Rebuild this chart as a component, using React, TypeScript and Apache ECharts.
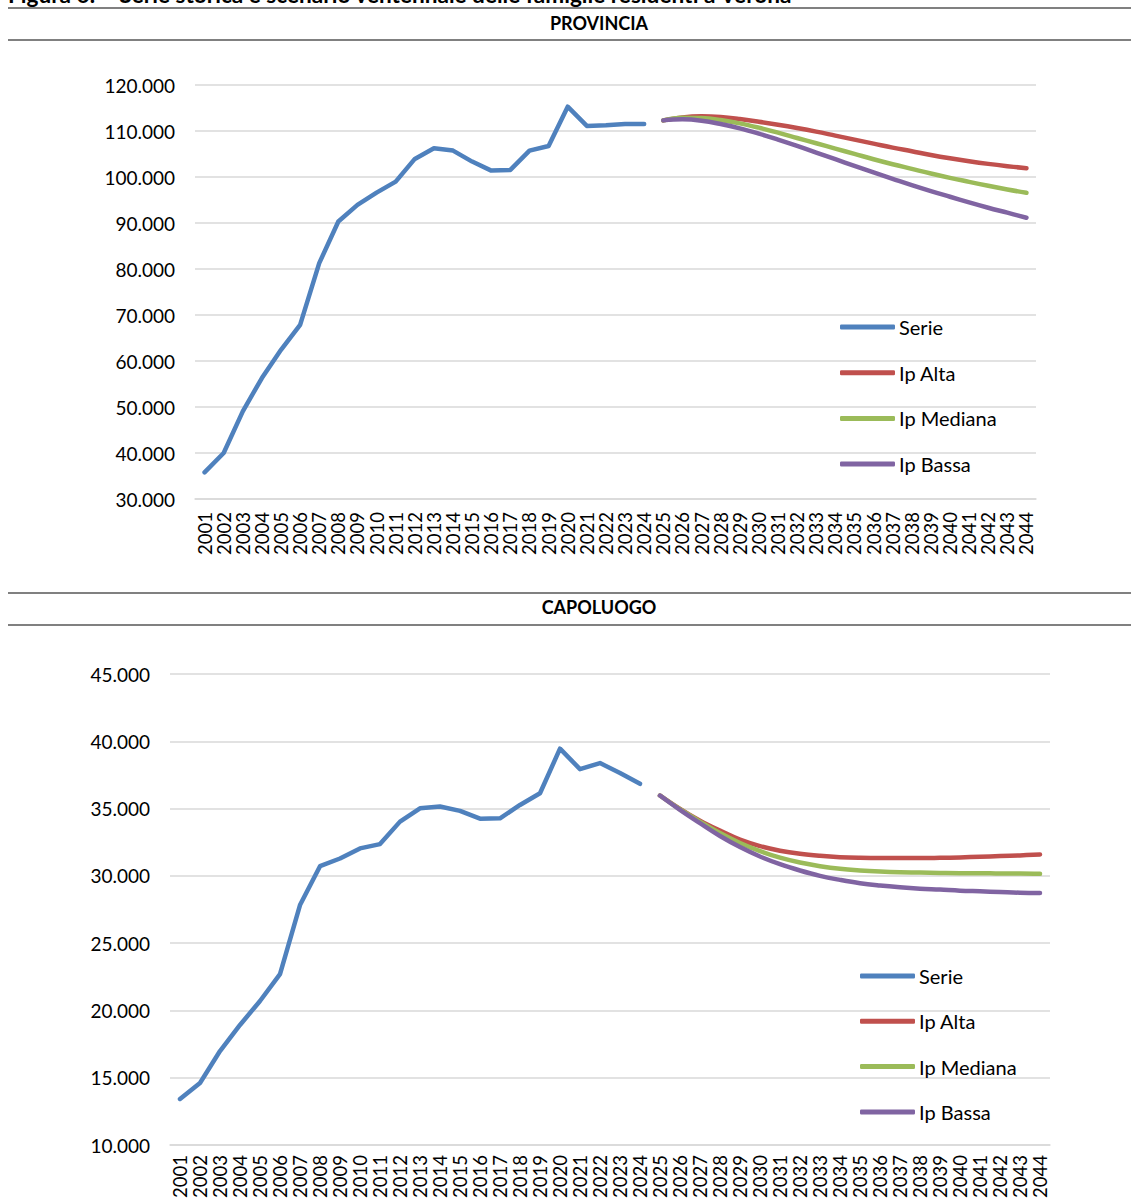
import React, { useEffect, useRef } from "react";
import * as echarts from "echarts";

const years = [
  "2001", "2002", "2003", "2004", "2005", "2006", "2007", "2008", "2009", "2010",
  "2011", "2012", "2013", "2014", "2015", "2016", "2017", "2018", "2019", "2020",
  "2021", "2022", "2023", "2024", "2025", "2026", "2027", "2028", "2029", "2030",
  "2031", "2032", "2033", "2034", "2035", "2036", "2037", "2038", "2039", "2040",
  "2041", "2042", "2043", "2044",
];

const seriesNames = ["Serie", "Ip Alta", "Ip Mediana", "Ip Bassa"];

// PROVINCIA — historical series 2001-2024
const provSerie = [
  35800, 40000, 49050, 56290, 62440, 67870, 81270, 90320, 93940, 96610,
  99000, 103930, 106240, 105740, 103350, 101390, 101540, 105740, 106750, 115290,
  111100, 111240, 111530, 111530,
];
// PROVINCIA — scenarios 2025-2044
const provAlta = [
  112310, 112960, 113180, 113030, 112600, 112020, 111370, 110650, 109860, 108990,
  108120, 107260, 106390, 105600, 104800, 104080, 103430, 102850, 102350, 101910,
];
const provMediana = [
  112310, 112890, 112820, 112380, 111660, 110720, 109640, 108480, 107330, 106170,
  105020, 103860, 102780, 101770, 100760, 99820, 98950, 98090, 97290, 96570,
];
const provBassa = [
  112310, 112530, 112240, 111520, 110580, 109420, 108120, 106750, 105310, 103860,
  102420, 100980, 99600, 98230, 96930, 95700, 94480, 93320, 92240, 91150,
];

// CAPOLUOGO — historical series 2001-2024
const capSerie = [
  13420, 14610, 16980, 18920, 20700, 22700, 27830, 30720, 31290, 32040,
  32360, 34030, 35020, 35150, 34830, 34250, 34280, 35270, 36140, 39450,
  37930, 38380, 37640, 36840,
];
// CAPOLUOGO — scenarios 2025-2044
const capAlta = [
  35970, 34980, 34100, 33360, 32690, 32210, 31870, 31640, 31490, 31390,
  31340, 31320, 31320, 31320, 31340, 31370, 31420, 31470, 31520, 31590,
];
const capMediana = [
  35970, 34950, 34030, 33180, 32440, 31840, 31350, 30990, 30720, 30520,
  30400, 30320, 30270, 30250, 30220, 30200, 30200, 30170, 30170, 30150,
];
const capBassa = [
  35970, 34900, 33910, 32960, 32140, 31440, 30870, 30400, 30000, 29700,
  29450, 29280, 29150, 29050, 28980, 28900, 28850, 28800, 28750, 28730,
];

const colors = ["#4F81BD", "#C0504D", "#9BBB59", "#8064A2"];
const FONT = "Lato";

const fmt = (v: number) => String(Math.round(v)).replace(/\B(?=(\d{3})+(?!\d))/g, ".");

function histData(arr: number[]) {
  return years.map((_, i) => (i < arr.length ? arr[i] : null));
}
function projData(arr: number[]) {
  const offset = years.length - arr.length;
  return years.map((_, i) => (i >= offset ? arr[i - offset] : null));
}

function makeSeries(axisIndex: number, hist: number[], projs: number[][]) {
  const list: any[] = [];
  list.push({
    name: seriesNames[0],
    type: "line",
    xAxisIndex: axisIndex,
    yAxisIndex: axisIndex,
    data: histData(hist),
    symbol: "none",
    lineStyle: { width: 4.5, color: colors[0], cap: "round", join: "round" },
    itemStyle: { color: colors[0] },
  });
  projs.forEach((p, k) => {
    list.push({
      name: seriesNames[k + 1],
      type: "line",
      xAxisIndex: axisIndex,
      yAxisIndex: axisIndex,
      data: projData(p),
      symbol: "none",
      smooth: 0.4,
      lineStyle: { width: 4.5, color: colors[k + 1], cap: "round", join: "round" },
      itemStyle: { color: colors[k + 1] },
    });
  });
  return list;
}

export default function App() {
  const ref = useRef<HTMLDivElement>(null);

  useEffect(() => {
    if (!ref.current) return;
    const chart = echarts.init(ref.current, null, { renderer: "svg" });

    const xAxisBase = (gridIndex: number, margin: number) => ({
      type: "category",
      gridIndex,
      data: years,
      boundaryGap: true,
      axisLine: { show: true, lineStyle: { color: "#D9D9D9", width: 1.5 } },
      axisTick: { show: false },
      axisLabel: {
        interval: 0,
        rotate: 90,
        margin,
        fontFamily: FONT,
        fontSize: 18.5,
        color: "#000",
      },
    });

    const yAxisBase = (gridIndex: number, min: number, max: number, interval: number) => ({
      type: "value",
      gridIndex,
      min,
      max,
      interval,
      axisLine: { show: false },
      axisTick: { show: false },
      splitLine: { show: true, lineStyle: { color: "#D9D9D9", width: 1.5 } },
      axisLabel: {
        margin: 20,
        fontFamily: FONT,
        fontSize: 19,
        color: "#000",
        formatter: (v: number) => fmt(v),
      },
    });

    const legendBase = (left: number, top: number, gap: number) => ({
      orient: "vertical",
      left,
      top,
      padding: 0,
      itemWidth: 55,
      itemHeight: 5,
      itemGap: gap,
      icon: "roundRect",
      data: seriesNames,
      selectedMode: false,
      textStyle: {
        fontFamily: FONT,
        fontSize: 20,
        color: "#000",
        lineHeight: 20,
        padding: [0, 0, 0, -1],
      },
    });

    const rule = (y: number) => ({
      type: "line",
      shape: { x1: 8, y1: y, x2: 1131, y2: y },
      style: { stroke: "#808080", lineWidth: 2 },
    });

    chart.setOption({
      animation: false,
      backgroundColor: "#fff",
      grid: [
        { left: 195, top: 85, width: 841, height: 414, containLabel: false, outerBoundsMode: "none" },
        { left: 170, top: 674, width: 880, height: 471, containLabel: false, outerBoundsMode: "none" },
      ],
      xAxis: [xAxisBase(0, 13), xAxisBase(1, 10)],
      yAxis: [yAxisBase(0, 30000, 120000, 10000), yAxisBase(1, 10000, 45000, 5000)],
      legend: [legendBase(840, 317, 25.7), legendBase(860, 966, 25.3)],
      series: [
        ...makeSeries(0, provSerie, [provAlta, provMediana, provBassa]),
        ...makeSeries(1, capSerie, [capAlta, capMediana, capBassa]),
      ],
      graphic: [
        {
          type: "text",
          x: 8,
          y: 6,
          style: {
            text: "Figura 6: \u2013 Serie storica e scenario ventennale delle famiglie residenti a Verona",
            fontFamily: FONT,
            fontSize: 22.6,
            fontWeight: "bold",
            fill: "#000",
            verticalAlign: "bottom",
          },
        },
        rule(8),
        rule(40),
        rule(593),
        rule(625),
        {
          type: "text",
          x: 599,
          y: 23,
          style: {
            text: "PROVINCIA",
            fontFamily: FONT,
            fontSize: 18,
            fontWeight: "bold",
            fill: "#000",
            align: "center",
            verticalAlign: "middle",
          },
        },
        {
          type: "text",
          x: 599,
          y: 607,
          style: {
            text: "CAPOLUOGO",
            fontFamily: FONT,
            fontSize: 18,
            fontWeight: "bold",
            fill: "#000",
            align: "center",
            verticalAlign: "middle",
          },
        },
      ],
    });

    return () => chart.dispose();
  }, []);

  return (
    <div
      ref={ref}
      style={{ position: "absolute", left: 0, top: 0, width: 1131, height: 1201 }}
    />
  );
}
